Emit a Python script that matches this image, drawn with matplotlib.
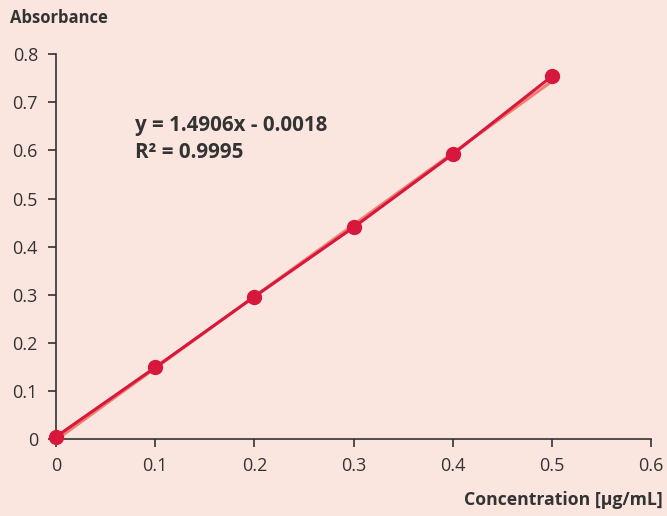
import matplotlib
matplotlib.use("Agg")
import matplotlib.pyplot as plt
import numpy as np

concentration = [0.0, 0.1, 0.2, 0.3, 0.4, 0.5]
absorbance = [0.005, 0.149, 0.296, 0.440, 0.592, 0.754]
slope = 1.4906
intercept = -0.0018
x_ticks = [0, 0.1, 0.2, 0.3, 0.4, 0.5, 0.6]
x_tick_labels = ["0", "0.1", "0.2", "0.3", "0.4", "0.5", "0.6"]
y_ticks = [0, 0.1, 0.2, 0.3, 0.4, 0.5, 0.6, 0.7, 0.8]
y_tick_labels = ["0", "0.1", "0.2", "0.3", "0.4", "0.5", "0.6", "0.7", "0.8"]

bg = "#FAE5DF"
plt.rcParams["font.family"] = ["Open Sans", "DejaVu Sans"]

fig = plt.figure(figsize=(6.67, 5.16), dpi=100, facecolor=bg)
ax = fig.add_axes([0.084, 0.149, 0.892, 0.746], facecolor=bg)

tx = np.array([concentration[0], concentration[-1]])
ax.plot(tx, slope * tx + intercept, color="#EE8070", lw=2.2, zorder=2)
ax.plot(concentration, absorbance, color="#D8173C", lw=2.2, marker="o",
        markersize=10, zorder=3, clip_on=False)

ax.set_xlim(0, 0.6)
ax.set_ylim(0, 0.8)
ax.set_xticks(x_ticks)
ax.set_xticklabels(x_tick_labels)
ax.set_yticks(y_ticks)
ax.set_yticklabels(y_tick_labels)
for s in ["top", "right"]:
    ax.spines[s].set_visible(False)
for s in ["left", "bottom"]:
    ax.spines[s].set_color("#333333")
    ax.spines[s].set_linewidth(1.2)
ax.tick_params(direction="out", length=6, width=1.2, color="#333333",
               labelsize=13, labelcolor="#333333", pad=7)

ax.text(0.08, 0.624, "y = 1.4906x - 0.0018\nR² = 0.9995", fontsize=14.8,
        fontweight="bold", color="#333333", va="center", ha="left",
        linespacing=1.35)

fig.text(10 / 667, 1 - 18 / 516, "Absorbance", fontsize=12, fontweight="bold",
         color="#333333", va="center", ha="left")
fig.text(663 / 667, 1 - 500 / 516, "Concentration [µg/mL]", fontsize=12.7,
         fontweight="bold", color="#333333", va="center", ha="right")

fig.savefig("out.png", dpi=100, facecolor=bg)
